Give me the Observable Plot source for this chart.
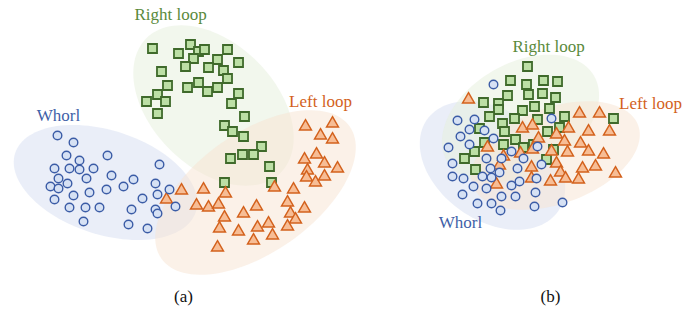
<!DOCTYPE html>
<html><head><meta charset="utf-8">
<script src="https://cdn.jsdelivr.net/npm/d3@7"></script>
<script src="https://cdn.jsdelivr.net/npm/@observablehq/plot@0.6"></script>
<style>body{margin:0;background:#fff}</style>
</head><body><div id="chart"></div>
<script>
// ---- Panel (a) points (embedding coordinates) ----
const whorlA = [[57,135],[73,142],[66,155],[79,160],[107,155],[54,168],[69,168],[79,169],[93,168],[159,164],[58,178],[86,178],[111,175],[50,186],[58,188],[67,183],[133,179],[155,183],[123,186],[106,189],[89,192],[73,195],[54,199],[169,189],[157,194],[142,198],[69,207],[85,207],[99,207],[131,209],[155,209],[157,213],[175,206],[83,221],[128,224],[147,228]];
const rightA = [[152,48],[178,53],[190,44],[198,51],[204,49],[227,49],[193,58],[185,66],[217,59],[208,67],[238,62],[161,71],[223,70],[227,78],[198,82],[207,91],[217,87],[187,87],[167,85],[157,94],[146,101],[165,101],[157,113],[238,93],[231,103],[244,116],[224,125],[232,131],[243,136],[261,146],[253,154],[242,154],[230,158],[224,182],[269,166],[271,182]];
const leftA = [[305,126],[332,123],[320,135],[332,139],[316,154],[304,159],[324,163],[337,168],[307,170],[306,177],[315,182],[324,176],[274,187],[293,189],[181,190],[203,189],[225,193],[166,199],[196,205],[208,207],[218,204],[256,206],[243,213],[224,217],[287,202],[304,208],[290,213],[295,219],[268,223],[257,227],[287,226],[219,228],[238,231],[272,235],[253,240],[217,247]];
// ---- Panel (b) points ----
const whorlB = [[493,84],[457,120],[474,119],[551,118],[469,129],[484,130],[460,136],[493,138],[448,147],[469,144],[452,163],[452,176],[463,178],[473,186],[486,188],[462,194],[477,203],[491,203],[500,210],[501,196],[515,196],[511,185],[519,181],[536,178],[535,192],[534,206],[562,202],[486,158],[501,158],[511,151],[523,158],[490,168],[482,176],[491,177],[499,172],[517,168],[541,164],[537,146]];
const rightB = [[527,66],[510,80],[526,84],[543,80],[557,81],[507,95],[528,94],[542,93],[555,97],[483,102],[498,103],[498,109],[522,110],[534,106],[549,108],[489,116],[502,123],[514,118],[537,119],[564,116],[504,131],[547,131],[559,127],[479,128],[515,139],[613,118],[484,142],[474,151],[464,158],[475,169],[503,144],[523,147],[533,144],[546,159],[553,149]];
const leftB = [[468,99],[579,113],[599,113],[522,128],[532,125],[568,128],[588,131],[609,131],[538,138],[556,134],[564,141],[580,143],[551,151],[567,152],[588,151],[603,154],[532,149],[487,147],[503,156],[499,165],[531,167],[556,163],[582,168],[595,166],[615,173],[560,172],[565,178],[578,179],[550,181],[531,178],[496,184],[520,153]];

// ---- Class ellipses (center, semi-axes, tilt in degrees) ----
const ellClass = ["whorl","right","left","whorl","right","left"];
const ellCx    = [105, 213, 255, 492, 520, 555];
const ellCy    = [182, 105, 192, 165, 118, 155];
const ellRx    = [95, 95, 115, 80, 85, 88];
const ellRy    = [52, 62, 60, 55, 55, 48];
const ellAngle = [18, 45, -35, 35, -30, -20];

// ---- Labels ----
const labelText  = ["Right loop","Whorl","Left loop","Right loop","Whorl","Left loop"];
const labelClass = ["right","whorl","left","right","whorl","left"];
const labelX     = [170, 58, 320, 548, 460, 650];
const labelY     = [14, 115, 101, 46, 222, 103];
const captionText = ["(a)","(b)"];
const captionX = [183, 550];
const captionY = [296, 296];

const strokeC = {whorl:"#3b5ca6", right:"#3f6a2b", left:"#d3611c"};
const fillC   = {whorl:"#d6e1f4", right:"#bcdfa5", left:"#f7bd95"};
const ellC    = {whorl:"#d5def1", right:"#e6efdc", left:"#f8e4d2"};
const labelC  = {whorl:"#3f5fa8", right:"#5a8a3c", left:"#d3611c"};

const pts = (arr) => arr.map(([x,y]) => ({x,y}));

// ellipse outlines
const ellPts = [];
ellClass.forEach((c,i) => {
  const th = ellAngle[i]*Math.PI/180;
  for (let k=0;k<=120;k++){
    const t = 2*Math.PI*k/120;
    const ex = ellRx[i]*Math.cos(t), ey = ellRy[i]*Math.sin(t);
    ellPts.push({id:i, cls:c, x: ellCx[i] + ex*Math.cos(th) - ey*Math.sin(th), y: ellCy[i] + ex*Math.sin(th) + ey*Math.cos(th)});
  }
});

const labels = labelText.map((t,i)=>({t, c:labelClass[i], x:labelX[i], y:labelY[i]}));
const caps = captionText.map((t,i)=>({t, x:captionX[i], y:captionY[i]}));

const squares = pts(rightA).concat(pts(rightB));
const triangles = pts(leftA).concat(pts(leftB));
const circles = pts(whorlA).concat(pts(whorlB));

const chart = Plot.plot({
  width: 697, height: 310,
  margin: 0,
  x: {domain:[0,697], range:[0,697], axis:null},
  y: {domain:[0,310], range:[0,310], axis:null},
  style: {fontFamily: "'Liberation Serif', 'DejaVu Serif', serif", background:"#fff"},
  marks: [
    Plot.line(ellPts, {x:"x", y:"y", z:"id", fill: d=>ellC[d.cls], fillOpacity:0.5, stroke:"none", curve:"linear"}),
    Plot.dot(squares, {x:"x", y:"y", symbol:"square", r:5.1, fill:fillC.right, stroke:strokeC.right, strokeWidth:1.8}),
    Plot.dot(triangles, {x:"x", y:"y", symbol:"triangle", r:4.4, fill:fillC.left, stroke:strokeC.left, strokeWidth:1.5}),
    Plot.dot(circles, {x:"x", y:"y", symbol:"circle", r:4.3, fill:fillC.whorl, stroke:strokeC.whorl, strokeWidth:1.4}),
    Plot.text(labels, {x:"x", y:"y", text:"t", fill:d=>labelC[d.c], fontSize:17}),
    Plot.text(caps, {x:"x", y:"y", text:"t", fill:"#111", fontSize:17})
  ]
});
document.getElementById("chart").appendChild(chart);
</script>
</body></html>
